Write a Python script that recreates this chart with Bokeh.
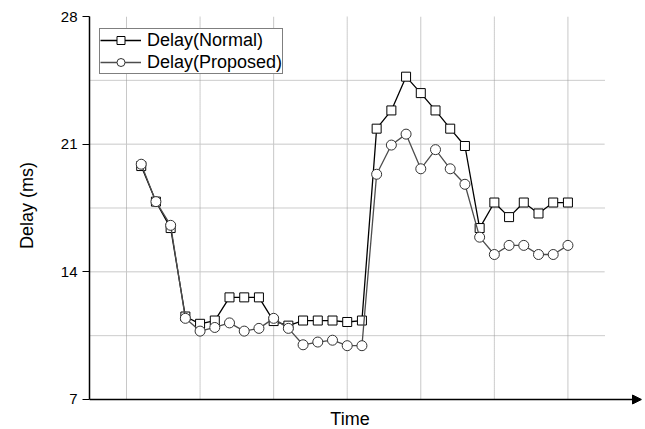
from bokeh.plotting import figure
from bokeh.models import Range1d, FixedTicker, Legend, LegendItem, Arrow, NormalHead, Label
from bokeh.embed import file_html
from bokeh.resources import INLINE

time_idx = list(range(30))
normal = [19.8, 17.85, 16.4, 11.55, 11.15, 11.33, 12.6, 12.6, 12.6, 11.3,
          11.05, 11.33, 11.33, 11.33, 11.25, 11.33, 21.85, 22.85, 24.7, 23.8,
          22.85, 21.85, 20.9, 16.4, 17.8, 17.0, 17.8, 17.2, 17.8, 17.8]
proposed = [19.9, 17.85, 16.55, 11.45, 10.75, 10.95, 11.2, 10.75, 10.9, 11.45,
            10.9, 10.0, 10.15, 10.25, 9.95, 9.95, 19.35, 20.95, 21.55, 19.65,
            20.7, 19.65, 18.8, 15.9, 14.95, 15.45, 15.45, 14.95, 14.95, 15.45]
y_ticks = [7, 14, 21, 28]
y_major_grid = [14, 21]
y_minor_grid = [10.5, 17.5, 24.5]
x_major_grid = [-1, 9, 19, 29]
x_minor_grid = [4, 14, 24]

FONT = "Liberation Sans"
Y0, Y1 = 7, 28
X0, X1 = -3.515, 34.0
GRID_END = 31.495
Y_BOTTOM = 5.355   # the plot area runs down to the page edge so the axis arrow and "Time" fit

p = figure(width=645, height=429, output_backend="svg", toolbar_location=None,
           x_axis_location=None,
           x_range=Range1d(X0, X1), y_range=Range1d(Y_BOTTOM, Y1),
           min_border_left=89, min_border_right=4, min_border_top=16,
           min_border_bottom=0)
p.outline_line_color = None
p.background_fill_color = "white"
p.xgrid.visible = False
p.ygrid.visible = False

# grid lines
n_xm, n_xn = len(x_major_grid), len(x_minor_grid)
p.segment(x0=x_major_grid, x1=x_major_grid, y0=[Y0] * n_xm, y1=[Y1] * n_xm,
          line_color="#c8c8c8", line_width=1)
p.segment(x0=x_minor_grid, x1=x_minor_grid, y0=[Y0] * n_xn, y1=[Y1] * n_xn,
          line_color="#999999", line_width=1, line_dash="1 1")
p.segment(x0=X0, x1=GRID_END, y0=y_major_grid, y1=y_major_grid,
          line_color="#c8c8c8", line_width=1)
p.segment(x0=X0, x1=GRID_END, y0=y_minor_grid, y1=y_minor_grid,
          line_color="#999999", line_width=1, line_dash="1 1")

# y axis
p.yaxis.ticker = FixedTicker(ticks=y_ticks)
p.yaxis.bounds = (Y0, Y1)
p.yaxis.minor_tick_line_color = None
p.yaxis.major_tick_in = 0
p.yaxis.major_tick_out = 7
p.yaxis.axis_line_width = 1.5
p.yaxis.major_tick_line_width = 1.2
p.yaxis.major_label_text_font = FONT
p.yaxis.major_label_text_font_size = "15px"
p.yaxis.major_label_text_color = "black"
p.yaxis.major_label_standoff = 5
# leading no-break spaces lift the label to where the original has it
p.yaxis.axis_label = "\u00a0" * 7 + "Delay (ms)"
p.yaxis.axis_label_text_font = FONT
p.yaxis.axis_label_text_font_size = "18px"
p.yaxis.axis_label_text_font_style = "normal"
p.yaxis.axis_label_text_color = "black"
p.yaxis.axis_label_standoff = 21

# time axis drawn as an arrow
p.add_layout(Arrow(end=NormalHead(size=9, fill_color="black", line_color="black"),
                   x_start=X0, y_start=Y0, x_end=X1, y_end=Y0,
                   line_color="black", line_width=1.5))
p.add_layout(Label(text="Time", x=260.5, y=11, x_units="screen", y_units="screen",
                   text_align="center", text_baseline="alphabetic",
                   text_font=FONT, text_font_size="18px", text_color="black"))

l1 = p.line(time_idx, normal, line_color="black", line_width=1.3)
s1 = p.scatter(time_idx, normal, marker="square", size=9,
               fill_color="white", line_color="black", line_width=1)
l2 = p.line(time_idx, proposed, line_color="#4d4d4d", line_width=1.3)
s2 = p.scatter(time_idx, proposed, marker="circle", size=10,
               fill_color="white", line_color="#333333", line_width=1)

legend = Legend(items=[LegendItem(label="Delay(Normal)", renderers=[l1, s1]),
                       LegendItem(label="Delay(Proposed)", renderers=[l2, s2])],
                location=(10, 355), padding=0, spacing=0, margin=0,
                glyph_width=41, glyph_height=20, label_height=22, label_standoff=6,
                border_line_color="black", border_line_width=1,
                label_text_font=FONT, label_text_font_size="18px",
                label_text_color="black",
                background_fill_color="white", background_fill_alpha=1)
p.add_layout(legend)

open("out.html", "w").write(file_html(p, INLINE))
